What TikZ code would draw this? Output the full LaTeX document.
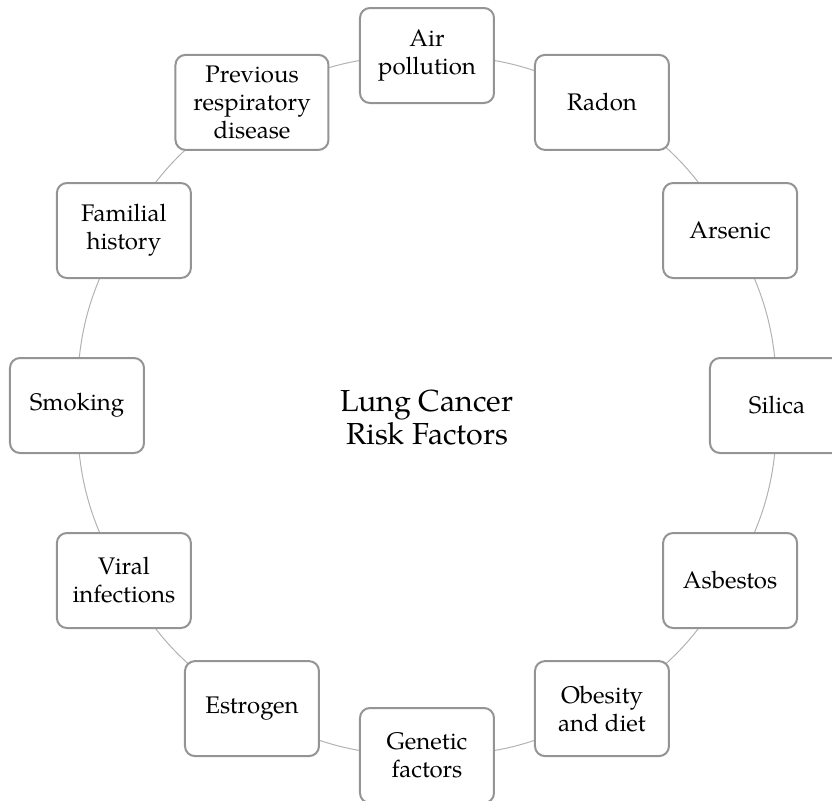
\documentclass[tikz,border=0pt]{standalone}
\usepackage{fontspec}
\setmainfont{TeX Gyre Pagella}
\usepackage{tikz}
\usetikzlibrary{backgrounds}
\colorlet{boxcol}{black!42}
\colorlet{linkcol}{black!30}
\tikzstyle{factor}=[draw=boxcol,line width=1,rounded corners=5,fill=white,
                    minimum width=67pt,minimum height=47.5pt,align=center,inner sep=2,
                    font=\fontsize{12}{14}\selectfont]
\tikzstyle{link}=[linkcol,line width=0.5]
\tikzstyle{title}=[align=center,font=\fontsize{15.2}{13.5}\selectfont]

\begin{document}
\begin{tikzpicture}[x=1pt,y=1pt]
  \def\R{175pt} % circle radius
  \clip (-213.5,-197.25) rectangle (202.5,202.75);
  
  % FACTORS
  \node[factor] (air)      at (90:\R)   {Air\\pollution};
  \node[factor] (radon)    at (60:\R)   {Radon};
  \node[factor] (arsenic)  at (30:\R)   {Arsenic};
  \node[factor] (silica)   at (0:\R)    {Silica};
  \node[factor] (asbestos) at (-30:\R)  {Asbestos};
  \node[factor] (obesity)  at (-60:\R)  {Obesity\\and diet};
  \node[factor] (genetic)  at (-90:\R)  {Genetic\\factors};
  \node[factor] (estrogen) at (-120:\R) {Estrogen};
  \node[factor] (viral)    at (-150:\R) {Viral\\infections};
  \node[factor] (smoking)  at (180:\R)  {Smoking};
  \node[factor] (familial) at (150:\R)  {Familial\\history};
  \node[factor,minimum width=76.5pt] (previous) at (120:\R) {Previous\\respiratory\\disease};
  
  % RING (behind the boxes)
  \begin{pgfonlayer}{background}
  \draw[link] (air.center)      to[bend left=15] (radon.center);
  \draw[link] (radon.center)    to[bend left=15] (arsenic.center);
  \draw[link] (arsenic.center)  to[bend left=15] (silica.center);
  \draw[link] (silica.center)   to[bend left=15] (asbestos.center);
  \draw[link] (asbestos.center) to[bend left=15] (obesity.center);
  \draw[link] (obesity.center)  to[bend left=15] (genetic.center);
  \draw[link] (genetic.center)  to[bend left=15] (estrogen.center);
  \draw[link] (estrogen.center) to[bend left=15] (viral.center);
  \draw[link] (viral.center)    to[bend left=15] (smoking.center);
  \draw[link] (smoking.center)  to[bend left=15] (familial.center);
  \draw[link] (familial.center) to[bend left=15] (previous.center);
  \draw[link] (previous.center) to[bend left=15] (air.center);
  \end{pgfonlayer}
  
  % CENTRE
  \node[title] (centre) at (0,-6) {Lung Cancer\\Risk Factors};
  
\end{tikzpicture}
\end{document}
